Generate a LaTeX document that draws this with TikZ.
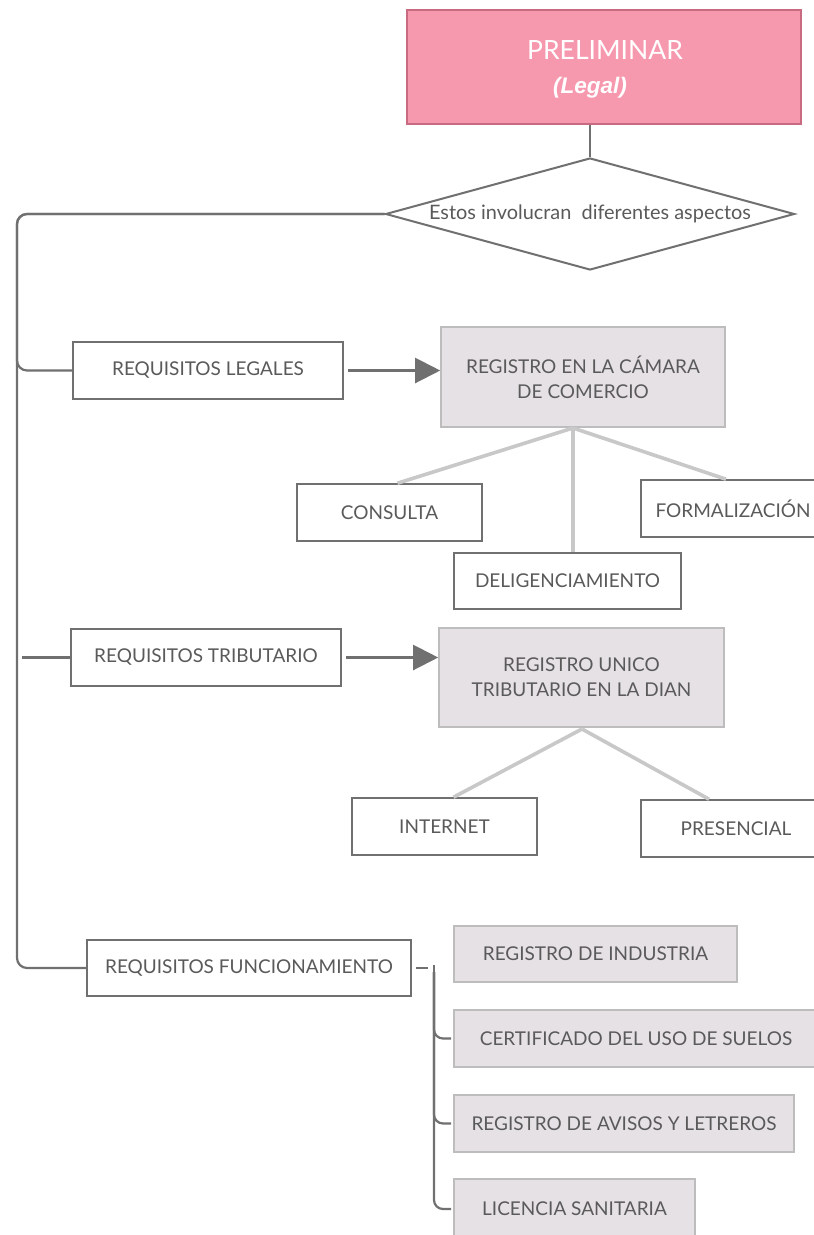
\documentclass[tikz,border=0pt]{standalone}
\usepackage{fontspec}
\setmainfont{Lato}
\newfontfamily\arialf{Liberation Sans}
\usetikzlibrary{arrows.meta,shapes.geometric}
\definecolor{pinkfill}{HTML}{F799AE}
\definecolor{pinkline}{HTML}{C86A80}
\definecolor{boxline}{HTML}{707070}
\definecolor{txt}{HTML}{5A5A5A}
\definecolor{greyfill}{HTML}{E6E1E5}
\definecolor{greyline}{HTML}{BDBDBD}
\definecolor{lightcon}{HTML}{C8C8C8}
\definecolor{darkcon}{HTML}{707070}
\tikzset{
  wbox/.style={draw=boxline, line width=1.6pt, fill=white, text=txt, inner sep=0pt,
    font=\fontsize{19}{23}\selectfont, align=center},
  gbox/.style={draw=greyline, line width=1.6pt, fill=greyfill, text=txt, inner sep=0pt,
    font=\fontsize{19}{25}\selectfont, align=center},
  dcon/.style={draw=darkcon, line width=2.2pt},
  lcon/.style={draw=lightcon, line width=3.6pt},
  bigarrow/.style={dcon, -{Triangle[length=25pt,width=25pt]}},
}
\begin{document}
\begin{tikzpicture}[x=1pt,y=-1pt]
\clip (0,0) rectangle (814,1235);
\fill[white] (0,0) rectangle (814,1235);

% top box
\node[draw=pinkline, line width=1.6pt, fill=pinkfill, minimum width=394pt, minimum height=114pt,
      inner sep=0pt] (pre) at (604,67) {};
\node[text=white, font=\fontsize{26.5}{30}\selectfont] (pret) at (605,50) {PRELIMINAR};
\node[text=white, font=\arialf\bfseries\itshape\fontsize{22.5}{26}\selectfont] (legal) at (590,88) {(Legal)};

% diamond
\node[diamond, aspect=3.65, draw=darkcon, line width=2pt, minimum width=409pt, minimum height=112pt, inner sep=0pt,
      text=txt, font=\fontsize{19.9}{22}\selectfont] (dia) at (590,214) {Estos involucran\ \ diferentes aspectos};
\draw[dcon] (pre.south -| dia.north) -- (dia.north);

% left level boxes
\node[wbox, minimum width=270pt, minimum height=57pt] (rl) at (208,370.5) {REQUISITOS LEGALES};
\node[wbox, minimum width=270pt, minimum height=57pt] (rt) at (206,657.5) {REQUISITOS TRIBUTARIO};
\node[wbox, minimum width=324pt, minimum height=56pt] (rf) at (249,968) {REQUISITOS FUNCIONAMIENTO};

% trunk
\coordinate (tc) at (17,214);
\coordinate (tj) at (22,657.5);
\draw[dcon, rounded corners=10pt] (dia.west) -- (tc) |- (rl.west);
\draw[dcon, rounded corners=10pt] (dia.west) -- (tc) |- (rf.west);
\draw[dcon] (tj) -- (rt.west);

% registro camara
\node[gbox, minimum width=284pt, minimum height=100pt] (cam) at (583,377) {REGISTRO EN LA CÁMARA\\DE COMERCIO};
\draw[bigarrow] ([xshift=4pt]rl.east) -- (cam.west |- rl.east);
\node[wbox, minimum width=185pt, minimum height=57pt] (con) at (389.5,512.5) {CONSULTA};
\node[wbox, minimum width=190pt, minimum height=57pt] (for) at (736,508.5) {};
\node[text=txt, font=\fontsize{19}{23}\selectfont, inner sep=0pt] (fort) at (733,508.5) {FORMALIZACIÓN};
\node[wbox, minimum width=227pt, minimum height=56pt] (del) at (567.5,581) {DELIGENCIAMIENTO};
\coordinate (camb) at (573,428);
\draw[lcon] (camb) -- ([xshift=8pt]con.north);
\draw[lcon] (camb) -- (camb |- del.north);
\draw[lcon] (camb) -- ([xshift=-10pt]for.north);

% registro dian
\node[gbox, minimum width=285pt, minimum height=99pt] (dian) at (581.5,677.5) {REGISTRO UNICO\\TRIBUTARIO EN LA DIAN};
\draw[bigarrow] ([xshift=4pt]rt.east) -- (dian.west |- rt.east);
\node[wbox, minimum width=185pt, minimum height=57pt] (int) at (444.5,826.5) {INTERNET};
\node[wbox, minimum width=190pt, minimum height=57pt] (pres) at (736,828.5) {PRESENCIAL};
\coordinate (dianb) at (582,729);
\draw[lcon] (dianb) -- ([xshift=9pt]int.north);
\draw[lcon] (dianb) -- ([xshift=-27pt]pres.north);

% funcionamiento children
\node[gbox, minimum width=283pt, minimum height=56pt, font=\fontsize{19}{23}\selectfont] (ind) at (595.5,954) {REGISTRO DE INDUSTRIA};
\node[gbox, minimum width=364pt, minimum height=57pt, font=\fontsize{19}{23}\selectfont] (cert) at (636,1038.5) {CERTIFICADO DEL USO DE SUELOS};
\node[gbox, minimum width=340pt, minimum height=57pt, font=\fontsize{19}{23}\selectfont] (avi) at (624,1123.5) {REGISTRO DE AVISOS Y LETREROS};
\node[gbox, minimum width=241pt, minimum height=60pt, font=\fontsize{19}{23}\selectfont] (lic) at (574.5,1209) {LICENCIA SANITARIA};

\coordinate (fj) at (428,968);
\coordinate (fv) at (434,972);
\draw[dcon] ([xshift=4pt]rf.east) -- (fj);
\draw[dcon] (434,965) -- (fv);
\draw[dcon, rounded corners=9pt] (fv) |- ([xshift=-2pt]cert.west);
\draw[dcon, rounded corners=9pt] (fv) |- ([xshift=-2pt]avi.west);
\draw[dcon, rounded corners=9pt] (fv) |- ([xshift=-2pt]lic.west);
\end{tikzpicture}
\end{document}
